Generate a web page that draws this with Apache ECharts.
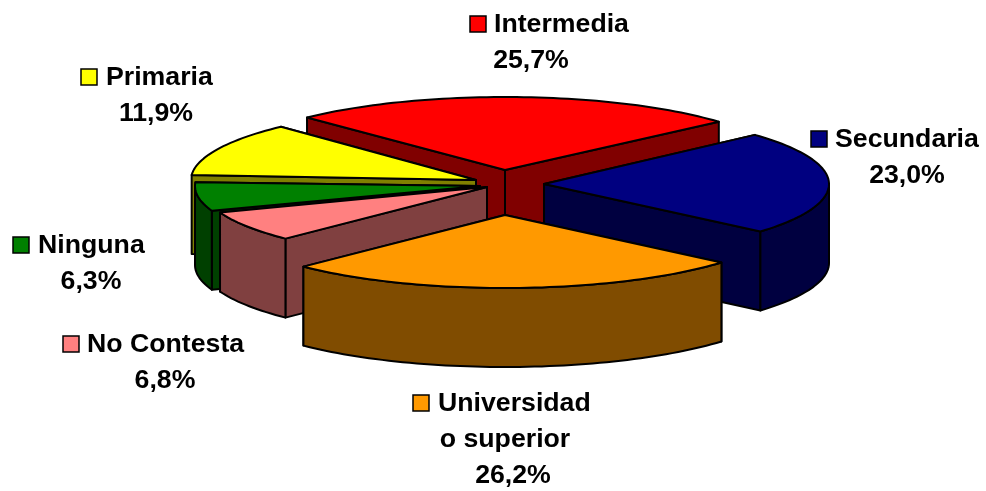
<!DOCTYPE html>
<html>
<head>
<meta charset="utf-8">
<style>html,body{margin:0;padding:0;background:#fff}#c{width:986px;height:491px}</style>
<script src="https://cdn.jsdelivr.net/npm/echarts@6/dist/echarts.min.js"></script>
</head>
<body>
<div id="c"></div>
<script>
// Data (clockwise from the back-left edge)
const categories = ['Intermedia', 'Secundaria', 'Universidad\no superior', 'No Contesta', 'Ninguna', 'Primaria'];
const percentages = [25.7, 23.0, 26.2, 6.8, 6.3, 11.9];

// Styles
const topColors = ['#FF0000', '#000080', '#FF9900', '#FF8080', '#008000', '#FFFF00'];
const sideColors = ['#800000', '#000040', '#804C00', '#804040', '#004000', '#808000'];

// Layout
const RX = 285, RY = 73, DEPTH = 79, START_DEG = -43.2;
const apexes = [[505, 170], [544, 184], [505, 215], [487, 187], [480, 186], [476, 180]];
const sliceTurn = [-0.8, -1.7, -1.7, -1.7, -1, 0];
const paintRank = [0, 4, 5, 3, 2, 1];
const keyBoxes = [[470, 16], [811, 131], [413, 395], [63, 336], [13, 237], [81, 69]];
const firstLineX = [494, 835, 438, 87, 38, 106];
const lineCentersX = [[], [], [null, 505, 513], [], [], []];
const valueCenterX = [531, 907, 513, 165, 91, 156];
const firstLineY = [25, 140, 404, 345, 246, 78];
const LINE_GAP = 36, FONT = 'bold 26.7px "Liberation Sans", Arial, sans-serif';

const RAD = Math.PI / 180;
function rimPoint(apex, deg, drop) {
  return [apex[0] + RX * Math.sin(deg * RAD), apex[1] - RY * Math.cos(deg * RAD) + (drop || 0)];
}
function arcPoints(apex, from, to, drop) {
  const pts = [], n = Math.max(2, Math.ceil(Math.abs(to - from) / 1.5));
  for (let k = 0; k <= n; k++) pts.push(rimPoint(apex, from + (to - from) * k / n, drop));
  return pts;
}
function poly(points, fill, z2) {
  return { type: 'polygon', z2, silent: true, shape: { points },
    style: { fill, stroke: '#000', lineWidth: 2, lineJoin: 'round' } };
}
function label(text, x, y, align, z2) {
  return { type: 'text', z2, silent: true, x, y,
    style: { text, font: FONT, fill: '#000', align, verticalAlign: 'middle' } };
}

const total = percentages.reduce((a, b) => a + b, 0);

function renderItem(params, api) {
  const i = api.value(0), value = api.value(1);
  let sum = 0;
  for (let k = 0; k < i; k++) sum += percentages[k];
  const a0 = START_DEG + sliceTurn[i] + sum / total * 360;
  const a1 = a0 + value / total * 360;
  const apex = apexes[i], base = paintRank[i] * 10;
  const apexLow = [apex[0], apex[1] + DEPTH];
  const children = [];

  // Radial faces, back-most first
  const faces = [a0, a1].map(a => [apex, rimPoint(apex, a), rimPoint(apex, a, DEPTH), apexLow]);
  faces.sort((p, q) => p[1][1] - q[1][1]);
  faces.forEach((f, k) => children.push(poly(f, sideColors[i], base + k + 1)));

  // Outer wall, only where the rim faces the viewer
  const w0 = Math.max(a0, 90), w1 = Math.min(a1, 270);
  if (w1 > w0) {
    const top = arcPoints(apex, w0, w1, 0);
    const low = arcPoints(apex, w1, w0, DEPTH);
    children.push(poly(top.concat(low), sideColors[i], base + 4));
  }

  // Top face
  children.push(poly([apex].concat(arcPoints(apex, a0, a1, 0)), topColors[i], base + 5));

  // Legend key + label
  const k = keyBoxes[i];
  children.push({ type: 'rect', z2: 100, silent: true, shape: { x: k[0], y: k[1], width: 16, height: 16 },
    style: { fill: topColors[i], stroke: '#000', lineWidth: 1.5 } });
  const lines = categories[i].split('\n');
  lines.forEach((t, n) => {
    const cx = lineCentersX[i][n];
    children.push(cx != null
      ? label(t, cx, firstLineY[i] + n * LINE_GAP, 'center', 100)
      : label(t, firstLineX[i], firstLineY[i] + n * LINE_GAP, 'left', 100));
  });
  children.push(label(value.toFixed(1).replace('.', ',') + '%', valueCenterX[i],
    firstLineY[i] + lines.length * LINE_GAP, 'center', 100));
  return { type: 'group', children };
}

const chart = echarts.init(document.getElementById('c'), null, { renderer: 'canvas' });
chart.setOption({
  animation: false,
  backgroundColor: '#fff',
  series: [{
    type: 'custom',
    coordinateSystem: 'none',
    renderItem,
    silent: true,
    data: categories.map((c, i) => ({ name: c, value: [i, percentages[i]] }))
  }]
});
</script>
</body>
</html>
